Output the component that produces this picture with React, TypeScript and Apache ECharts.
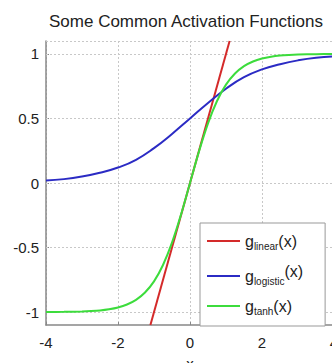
import React, { useEffect, useRef } from "react";
import * as echarts from "echarts";

const titleText = "Some Common Activation Functions";
const xAxisName = "x";
const xTicks = [-4, -2, 0, 2, 4];
const yTicks = [-1, -0.5, 0, 0.5, 1];

const linearX = [-1.1, 1.1];
const linearY = [-1.1, 1.1];

const logisticX = [-4, -3.5, -3, -2.5, -2, -1.5, -1, -0.5, 0, 0.5, 1, 1.5, 2, 2.5, 3, 3.5, 4];
const logisticY = [0.02, 0.03, 0.05, 0.08, 0.12, 0.18, 0.27, 0.38, 0.5, 0.62, 0.73, 0.82, 0.88, 0.92, 0.95, 0.97, 0.98];

const tanhX = [-4, -3.5, -3, -2.75, -2.5, -2.25, -2, -1.75, -1.5, -1.25, -1, -0.75, -0.5, -0.25, 0, 0.25, 0.5, 0.75, 1, 1.25, 1.5, 1.75, 2, 2.25, 2.5, 2.75, 3, 3.5, 4];
const tanhY = [-0.999, -0.998, -0.995, -0.992, -0.987, -0.978, -0.964, -0.941, -0.905, -0.848, -0.762, -0.635, -0.462, -0.245, 0, 0.245, 0.462, 0.635, 0.762, 0.848, 0.905, 0.941, 0.964, 0.978, 0.987, 0.992, 0.995, 0.998, 0.999];

const seriesNames = ["linear", "logistic", "tanh"];
const colors = ["#d42a2a", "#2b2bc4", "#3cdc3c"];

const zip = (xs: number[], ys: number[]) => xs.map((x, i) => [x, ys[i]]);

export default function App() {
  const ref = useRef<HTMLDivElement>(null);
  useEffect(() => {
    if (!ref.current) return;
    const chart = echarts.init(ref.current, undefined, { renderer: "svg" });
    const font = "Liberation Sans";
    const gridLine = { color: "#c8c8c8", type: [2, 2] as any, width: 1 };
    chart.setOption({
      animation: false,
      backgroundColor: "#ffffff",
      textStyle: { fontFamily: font },
      title: {
        text: titleText,
        left: 44,
        top: 8,
        textStyle: { fontFamily: font, fontSize: 17, fontWeight: "normal", color: "#222" },
      },
      grid: { left: 46, top: 41, width: 288, height: 284, containLabel: false, outerBoundsMode: "none" },
      xAxis: {
        type: "value",
        min: -4,
        max: 4,
        interval: 2,
        name: xAxisName,
        nameLocation: "middle",
        nameGap: 31,
        nameTextStyle: { fontFamily: font, fontSize: 15, color: "#222" },
        axisLine: { show: true, onZero: false, lineStyle: { color: "#888", width: 1.5 } },
        axisTick: { show: true, inside: true, length: 3, lineStyle: { color: "#888" } },
        axisLabel: { fontFamily: font, fontSize: 15, color: "#222", margin: 10, showMaxLabel: true, showMinLabel: true,
          hideOverlap: false, formatter: (v: number) => String(v) },
        splitLine: { show: true, lineStyle: gridLine },
      },
      yAxis: {
        type: "value",
        min: -1.1,
        max: 1.1,
        axisLine: { show: true, onZero: false, lineStyle: { color: "#888", width: 1.5 } },
        axisTick: { show: true, inside: true, length: 3, customValues: yTicks, lineStyle: { color: "#888" } },
        axisLabel: { fontFamily: font, fontSize: 15, color: "#222", margin: 7, customValues: yTicks,
          formatter: (v: number) => String(v) },
        splitLine: { show: false },
      },
      legend: {
        orient: "vertical",
        left: 200,
        top: 223,
        padding: [10, 22, 10, 7],
        itemGap: 12,
        itemWidth: 33,
        itemHeight: 2,
        icon: "rect",
        backgroundColor: "#ffffff",
        borderColor: "#999",
        borderWidth: 1,
        data: seriesNames,
        formatter: (name: string) =>
          name === "logistic" ? `{g|g}{sub|${name}}{sup|(x)}` : `{g|g}{sub|${name}}{g|(x)}`,
        textStyle: {
          fontFamily: font,
          color: "#222",
          rich: {
            g: { fontSize: 16, fontFamily: font, color: "#222", lineHeight: 18, verticalAlign: "middle" },
            sub: { fontSize: 10, fontFamily: font, color: "#222", padding: [10, 0, 0, 0], verticalAlign: "middle" },
            sup: { fontSize: 16, fontFamily: font, color: "#222", padding: [0, 0, 10, 0], verticalAlign: "middle" },
          },
        },
      },
      series: [
        {
          name: "linear",
          type: "line",
          data: zip(linearX, linearY),
          symbol: "none",
          lineStyle: { color: colors[0], width: 2 },
          itemStyle: { color: colors[0] },
          clip: true,
          z: 2,
          markLine: {
            silent: true,
            symbol: "none",
            label: { show: false },
            lineStyle: gridLine,
            data: [...yTicks.map((v) => ({ yAxis: v })), { yAxis: 1.1 }],
            z: 1,
          },
        },
        {
          name: "logistic",
          type: "line",
          data: zip(logisticX, logisticY),
          smooth: true,
          symbol: "none",
          lineStyle: { color: colors[1], width: 2 },
          itemStyle: { color: colors[1] },
          z: 3,
        },
        {
          name: "tanh",
          type: "line",
          data: zip(tanhX, tanhY),
          smooth: 0.3,
          symbol: "none",
          lineStyle: { color: colors[2], width: 2 },
          itemStyle: { color: colors[2] },
          z: 4,
        },
      ],
    });
    return () => chart.dispose();
  }, []);
  return <div ref={ref} style={{ position: "fixed", left: 0, top: 0, width: 332, height: 363 }} />;
}
